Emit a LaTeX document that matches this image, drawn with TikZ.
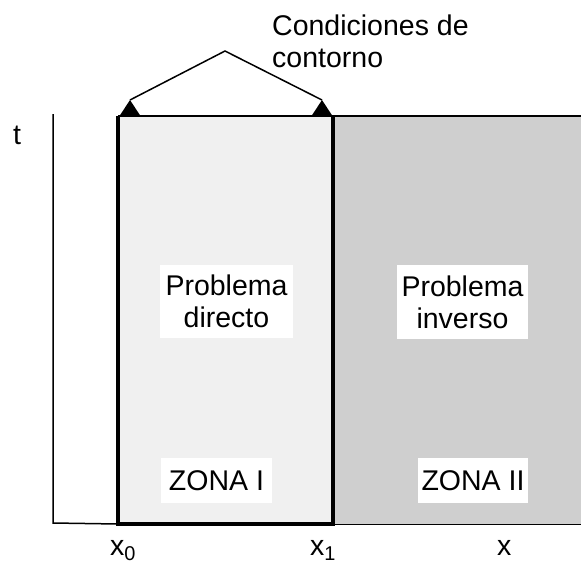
\documentclass[tikz,border=0pt]{standalone}
\usepackage{fontspec}
\setmainfont{Liberation Sans}
\tikzset{
	zonebox/.style={fill=white,inner sep=0pt,align=center},
	thickedge/.style={line width=4pt,line join=miter},
}
\begin{document}
\begin{tikzpicture}[x=1pt,y=-1pt,font=\fontsize{28.5}{32}\selectfont]
	\useasboundingbox (0,0) rectangle (581,566);
	\coordinate (O) at (53,523);
	\coordinate (T) at (53,114);
	\coordinate (A) at (118,116);
	\coordinate (B) at (333,116);
	\coordinate (C) at (333,524);
	\coordinate (D) at (118,524);
	\coordinate (E) at (581,116);
	\coordinate (F) at (581,524);
	\coordinate (P) at (225,51);
	\coordinate (L) at (130,100);
	\coordinate (R) at (322,100);
	% zonas
	\fill[black!6] (A) rectangle (C);
	\fill[black!19] (B) rectangle (F);
	\draw[line width=2pt] (A)--(E);
	\draw[line width=1pt] (C)--(F);
	\draw[thickedge] (A)--(D)--(C)--(B);
	% ejes
	\draw[line width=1.5pt] (T)--(O)--(D);
	% condiciones de contorno
	\draw[line width=1.5pt] (L)--(P)--(R);
	\foreach \i in {L,R} \fill (\i) -- ++(-10.5,16) -- ++(21,0) -- cycle;
	\node[anchor=north west,inner sep=0pt,align=left] (cc) at (272,15) {Condiciones de\\contorno};
	% textos
	\node[zonebox,minimum width=133pt,minimum height=73pt] (dir) at (226.5,301.5) {Problema\\directo};
	\node[zonebox,minimum width=131pt,minimum height=74pt] (inv) at (462.5,302) {Problema\\inverso};
	\node[zonebox,minimum width=111pt,minimum height=45pt] (z1) at (216.5,480.5) {ZONA I};
	\node[zonebox,minimum width=110pt,minimum height=45pt] (z2) at (473,480.5) {ZONA II};
	\node[anchor=base west,inner sep=0pt] (t) at (13,144) {t};
	\node[anchor=base west,inner sep=0pt] (x0) at (110,555) {x\textsubscript{0}};
	\node[anchor=base west,inner sep=0pt] (x1) at (310,555) {x\textsubscript{1}};
	\node[anchor=base west,inner sep=0pt] (x) at (497,555) {x};
\end{tikzpicture}
\end{document}
